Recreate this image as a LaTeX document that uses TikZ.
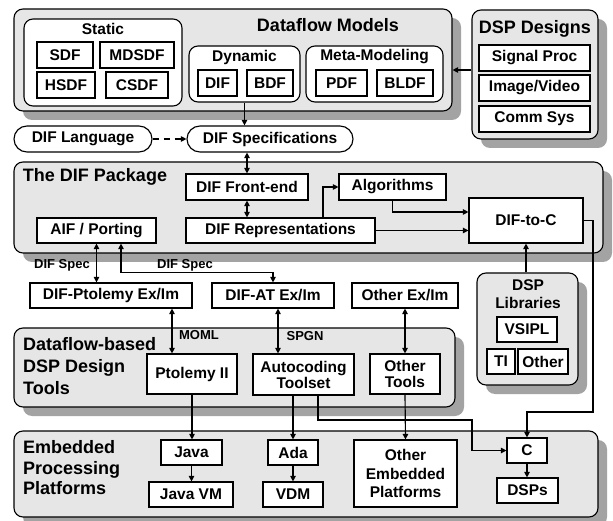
\documentclass[tikz,border=0pt]{standalone}
\usepackage{fontspec}
\setmainfont{Liberation Sans}
\usetikzlibrary{arrows.meta,shadows,calc}
\definecolor{grpfill}{HTML}{E6E6E6}
\definecolor{shadowc}{HTML}{A3A3A3}
\begin{document}
\begin{tikzpicture}[x=1pt,y=-1pt,
  wh/.style 2 args={minimum width=#1pt, minimum height=#2pt},
  lbl/.style={font=\fontsize{15.5}{17}\selectfont\bfseries},
  bx/.style={draw, line width=1.15pt, fill=white, inner sep=0pt, lbl, align=center},
  grp/.style={draw, line width=1.15pt, fill=grpfill, rounded corners=9pt, inner sep=0pt,
    drop shadow={shadow xshift=9pt,shadow yshift=-9pt,fill=shadowc,opacity=1}},
  sub/.style={draw, line width=1.15pt, fill=white, rounded corners=9pt, inner sep=0pt},
  ttl/.style={font=\fontsize{18}{22}\selectfont\bfseries, inner sep=0pt},
  sml/.style={font=\fontsize{13}{15}\selectfont\bfseries, inner sep=0pt},
  txt/.style={lbl, inner sep=0pt, align=center},
  arr/.style={line width=1.15pt, -{Triangle[length=5.5pt,width=5.5pt]}},
  darr/.style={line width=1.15pt, {Triangle[length=5.5pt,width=5.5pt]}-{Triangle[length=5.5pt,width=5.5pt]}},
  dsh/.style={line width=1.15pt, dash pattern=on 6pt off 5pt, -{Triangle[length=5.5pt,width=5.5pt]}},
]
\useasboundingbox (0,0) rectangle (613,521);

% ---------- Dataflow Models ----------
\node[grp, wh={438}{102}] (dfm) at (233,60) {};
\node[ttl] (dfmt) at (328,25) {Dataflow Models};
\node[sub, wh={158}{87}] (stat) at (103,62.5) {};
\node[txt] (statt) at (103,29) {Static};
\node[bx, wh={56}{26}] (sdf) at (65,55) {SDF};
\node[bx, wh={74}{26}] (mdsdf) at (137,55) {MDSDF};
\node[bx, wh={58}{26}] (hsdf) at (66,85) {HSDF};
\node[bx, wh={62}{26}] (csdf) at (137,85) {CSDF};
\node[sub, wh={111}{56}] (dyn) at (244.5,74) {};
\node[txt] (dynt) at (244.5,57) {Dynamic};
\node[bx, wh={39}{26}] (dif) at (217.5,83) {DIF};
\node[bx, wh={46}{26}] (bdf) at (270,83) {BDF};
\node[sub, wh={137}{56}] (meta) at (374.5,74) {};
\node[txt] (metat) at (374.5,57) {Meta-Modeling};
\node[bx, wh={51}{26}] (pdf) at (341.5,83) {PDF};
\node[bx, wh={56}{26}] (bldf) at (405,83) {BLDF};

% ---------- DSP Designs ----------
\node[grp, wh={126}{129}] (dspd) at (535,74.5) {};
\node[ttl] (dspdt) at (535,29) {DSP Designs};
\node[bx, wh={111}{26}] (sig) at (534.5,58) {Signal Proc};
\node[bx, wh={111}{26}] (img) at (534.5,88) {Image/Video};
\node[bx, wh={111}{26}] (comm) at (534.5,119) {Comm Sys};

% ---------- DIF language / specs ----------
\node[bx, rounded corners=13pt, wh={138}{26}] (lang) at (83,139) {DIF Language};
\node[bx, rounded corners=13pt, wh={166}{26}] (spec) at (270,139) {DIF Specifications};

% ---------- DIF Package ----------
\node[grp, wh={589}{91}] (pkg) at (308.5,207.5) {};
\node[ttl] (pkgt) at (95,177) {The DIF Package};
\node[bx, wh={122}{26}] (fe) at (247,187) {DIF Front-end};
\node[bx, wh={189}{25}] (rep) at (280.5,230.5) {DIF Representations};
\node[bx, wh={107}{26}] (alg) at (392.5,187) {Algorithms};
\node[bx, wh={114}{45}] (dtc) at (526,220.5) {DIF-to-C};
\node[bx, wh={119}{25}] (aif) at (96.5,230.5) {AIF / Porting};

% ---------- Ex/Im ----------
\node[bx, wh={162}{25}] (dpt) at (111,295.5) {DIF-Ptolemy Ex/Im};
\node[bx, wh={122}{25}] (dat) at (273,295.5) {DIF-AT Ex/Im};
\node[bx, wh={106}{25}] (oex) at (405,295.5) {Other Ex/Im};
\node[sml] (ds1) at (62,265) {DIF Spec};
\node[sml] (ds2) at (185,265) {DIF Spec};

% ---------- DSP Libraries ----------
\node[grp, wh={101}{112}] (lib) at (527.5,329) {};
\node[txt, font=\fontsize{15.5}{18}\selectfont\bfseries] (libt) at (528,294) {DSP\\Libraries};
\node[bx, wh={60}{25}] (vsipl) at (527,329.5) {VSIPL};
\node[bx, wh={28}{25}] (ti) at (501,361.5) {TI};
\node[bx, wh={50}{25}] (oth) at (543,361.5) {Other};

% ---------- Dataflow-based DSP Design Tools ----------
\node[grp, wh={441}{79}] (tools) at (234.5,367.5) {};
\node[ttl, anchor=west, align=left, font=\fontsize{18}{22}\selectfont\bfseries] (toolst) at (23,366) {Dataflow-based\\DSP Design\\Tools};
\node[bx, wh={90}{40}] (pto) at (192,374) {Ptolemy II};
\node[bx, wh={101}{41}, font=\fontsize{15.5}{16}\selectfont\bfseries] (auto) at (303.5,374.5) {Autocoding\\Toolset};
\node[bx, wh={70}{40}, font=\fontsize{15.5}{16}\selectfont\bfseries] (otl) at (405,374) {Other\\Tools};
\node[sml] (moml) at (199,335) {MOML};
\node[sml] (spgn) at (305,336) {SPGN};

% ---------- Embedded Processing Platforms ----------
\node[grp, wh={584}{86}] (emb) at (306,474) {};
\node[ttl, anchor=west, align=left, font=\fontsize{18}{20.5}\selectfont\bfseries] (embt) at (23,468) {Embedded\\Processing\\Platforms};
\node[bx, wh={61}{25}] (java) at (191.5,452.5) {Java};
\node[bx, wh={84}{25}] (jvm) at (191,494.5) {Java VM};
\node[bx, wh={50}{25}] (ada) at (293,452.5) {Ada};
\node[bx, wh={60}{25}] (vdm) at (293,494.5) {VDM};
\node[bx, wh={103}{67}, font=\fontsize{15.5}{18.5}\selectfont\bfseries] (oep) at (405.5,473.5) {Other\\Embedded\\Platforms};
\node[bx, wh={40}{25}] (c) at (527,450.5) {C};
\node[bx, wh={61}{25}] (dsps) at (527.5,490.5) {DSPs};

% ---------- connectors ----------
\draw[arr] (dspd.west |- 0,70) coordinate (dd1) -- (dfm.east |- dd1);
\draw[arr] (dyn.south) -- (dyn.south |- spec.north);
\draw[dsh] (lang.east) -- (spec.west);
\draw[darr] (fe.north) -- (fe.north |- spec.south);
\draw[darr] (fe.south) -- (fe.south |- rep.north);
\coordinate (r1) at ([xshift=42.5pt]rep.north);
\draw[arr] (r1) |- (alg.west);
\coordinate (a1) at ([yshift=8.5pt]dtc.west);
\draw[arr] (alg.south) |- (a1);
\draw[arr] (rep.east) -- (rep.east -| dtc.west);
\draw[arr] (lib.north -| dtc.south) -- (dtc.south);
\coordinate (b1) at (593,412);
\draw[arr] (dtc.east) -| (b1) -| (c.north);
\draw[darr] (aif.south) -- (aif.south |- dpt.north);
\coordinate (f1) at ([xshift=24.5pt]aif.south);
\coordinate (f2) at ([yshift=9.5pt]dat.north);
\draw[darr] (f1) |- (f2) -- (dat.north);
\coordinate (p1) at ([xshift=-20pt]pto.north);
\draw[darr] (p1) -- (p1 |- dpt.south);
\coordinate (p2) at ([xshift=5pt]dat.south);
\draw[darr] (p2) -- (p2 |- auto.north);
\draw[darr] (oex.south) -- (otl.north);
\draw[arr] (pto.south) -- (pto.south |- java.north);
\draw[arr] (java.south) -- (java.south |- jvm.north);
\coordinate (p3) at ([xshift=-10.5pt]auto.south);
\draw[arr] (p3) -- (p3 |- ada.north);
\draw[arr] (ada.south) -- (vdm.north);
\coordinate (p4) at ([xshift=14.5pt]auto.south);
\coordinate (b3) at (472,420);
\draw[arr] (p4) |- (b3) |- (c.west);
\draw[arr] (otl.south) -- (oep.north);
\draw[arr] (c.south) -- (c.south |- dsps.north);
\end{tikzpicture}
\end{document}
